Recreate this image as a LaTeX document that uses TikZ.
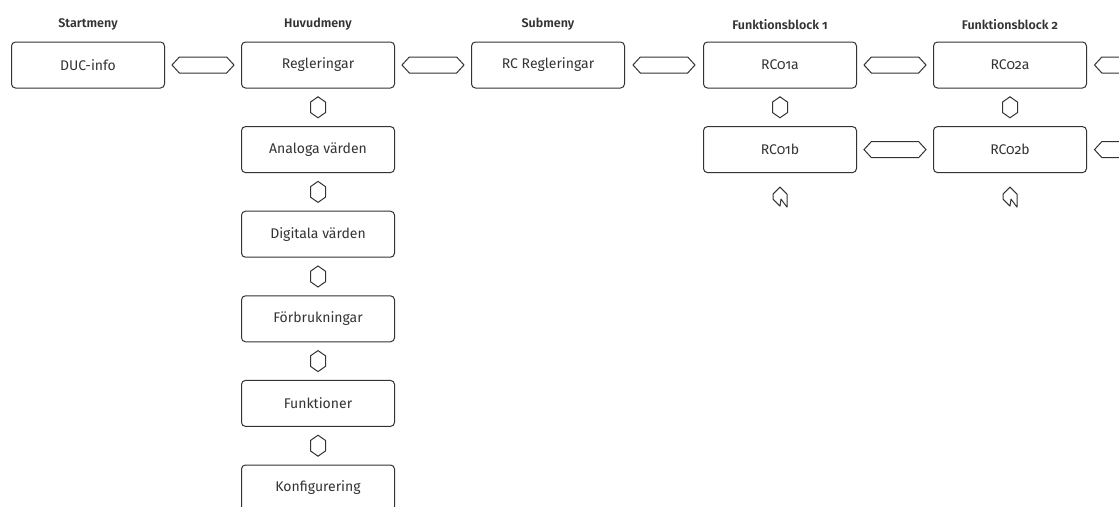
\documentclass[tikz,border=0pt]{standalone}
\usepackage{fontspec}
\setmainfont{Fira Sans}[BoldFont=* SemiBold, Numbers=OldStyle]
\usetikzlibrary{shapes.arrows,calc}
\definecolor{ink}{HTML}{333333}

\begin{document}
\begin{tikzpicture}[x=1pt, y=-1pt, ink, line width=1pt,
    menubox/.style = {draw, rounded corners=4pt, minimum width=153pt, minimum height=46pt, inner sep=0pt, font=\fontsize{14}{16}\selectfont},
    header/.style = {font=\fontsize{12.5}{15}\selectfont\bfseries},
    harrow/.style = {double arrow, draw, double arrow head extend=0pt, double arrow tip angle=95, minimum height=62pt, minimum width=16pt, inner sep=0pt},
    varrow/.style = {harrow, shape border rotate=90, double arrow tip angle=110, minimum height=21pt, minimum width=15pt},
    wrapglyph/.style = {draw, line join=round}]
    \useasboundingbox (0,0) rectangle (1119,506);

    % top row
    \node[menubox] (duc) at (88,65) {DUC-info};
    \node[menubox] (regl) at (318,65) {Regleringar};
    \node[menubox] (rcregl) at (548,65) {RC Regleringar};
    \node[menubox] (rc1a) at (780,65) {RC01a};
    \node[menubox] (rc2a) at (1010,65) {RC02a};

    \node[header] at ($(duc.north)+(0,-17)$) {Startmeny};
    \node[header] at ($(regl.north)+(0,-17)$) {Huvudmeny};
    \node[header] at ($(rcregl.north)+(0,-17)$) {Submeny};
    \node[header] at ($(rc1a.north)+(0,-17)$) {Funktionsblock 1};
    \node[header] at ($(rc2a.north)+(0,-17)$) {Funktionsblock 2};

    % main menu column
    \node[menubox] (analog) at (318,149.6) {Analoga värden};
    \node[menubox] (digital) at (318,234.2) {Digitala värden};
    \node[menubox] (forbr) at (318,318.8) {Förbrukningar};
    \node[menubox] (funkt) at (318,403.4) {Funktioner};
    \node[menubox] (konf) at (318,488) {Konfigurering};

    % second row of the function blocks
    \node[menubox] (rc1b) at (780,149.6) {RC01b};
    \node[menubox] (rc2b) at (1010,149.6) {RC02b};

    \coordinate (next2a) at ($(rc2a.east)+(77,0)$);
    \coordinate (next2b) at ($(rc2b.east)+(77,0)$);

    % horizontal connectors
    \node[harrow] (h1) at ($(duc.east)!0.5!(regl.west)$) {};
    \node[harrow] (h2) at ($(regl.east)!0.5!(rcregl.west)$) {};
    \node[harrow] (h3) at ($(rcregl.east)!0.5!(rc1a.west)$) {};
    \node[harrow] (h4) at ($(rc1a.east)!0.5!(rc2a.west)$) {};
    \node[harrow] (h5) at ($(rc1b.east)!0.5!(rc2b.west)$) {};
    \node[harrow] (h6) at ($(rc2a.east)!0.5!(next2a)$) {};
    \node[harrow] (h7) at ($(rc2b.east)!0.5!(next2b)$) {};

    % vertical connectors
    \node[varrow] (v1) at ($(regl.south)!0.5!(analog.north)$) {};
    \node[varrow] (v2) at ($(analog.south)!0.5!(digital.north)$) {};
    \node[varrow] (v3) at ($(digital.south)!0.5!(forbr.north)$) {};
    \node[varrow] (v4) at ($(forbr.south)!0.5!(funkt.north)$) {};
    \node[varrow] (v5) at ($(funkt.south)!0.5!(konf.north)$) {};
    \node[varrow] (v6) at ($(rc1a.south)!0.5!(rc1b.north)$) {};
    \node[varrow] (v7) at ($(rc2a.south)!0.5!(rc2b.north)$) {};

    % back to the top
    \draw[wrapglyph] ([yshift=-14pt]rc1b.south) -- ++(7,7) -- ++(0,13) -- ++(-6,-8) -- ++(-1,7) -- ++(-7,-7) -- ++(0,-5) -- cycle;
    \draw[wrapglyph] ([yshift=-14pt]rc2b.south) -- ++(7,7) -- ++(0,13) -- ++(-6,-8) -- ++(-1,7) -- ++(-7,-7) -- ++(0,-5) -- cycle;
\end{tikzpicture}
\end{document}
